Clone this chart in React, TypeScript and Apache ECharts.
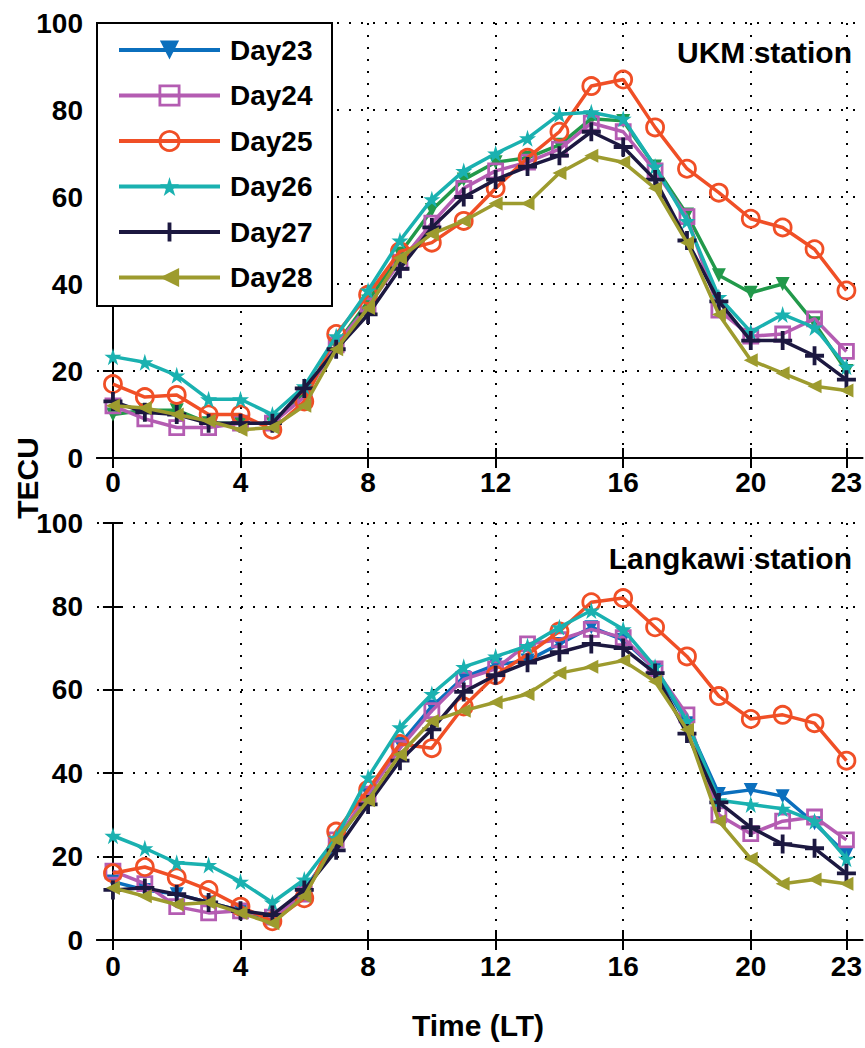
import React, { useEffect, useRef } from "react";
import * as echarts from "echarts";

const hours = [0, 1, 2, 3, 4, 5, 6, 7, 8, 9, 10, 11, 12, 13, 14, 15, 16, 17, 18, 19, 20, 21, 22, 23];
const xTicks = [0, 4, 8, 12, 16, 20, 23];
const dayNames = ["Day23", "Day24", "Day25", "Day26", "Day27", "Day28"];

// UKM station
const ukmDay23 = [10, 11, 11, 8, 8, 8, 15, 26, 36, 47, 57, 64, 68, 69, 72, 78, 77.5, 67, 56, 42, 38, 40, 31, 20];
const ukmDay24 = [12, 9, 7, 7, 8, 8, 14, 26, 35, 45, 54, 62, 66, 68, 71, 77, 75, 66, 55.5, 34, 28, 28.5, 32, 24.5];
const ukmDay25 = [17, 14, 14.5, 10, 10, 6.5, 13, 28.5, 37.5, 47.5, 49.5, 54.5, 62, 69, 75, 85.5, 87, 76, 66.5, 61, 55, 53, 48, 38.5];
const ukmDay26 = [23.3, 22, 19, 13.5, 13.5, 10, 16.5, 28, 38.5, 50, 59.5, 66, 70, 73.5, 79, 79.5, 78, 67, 54.5, 37, 29, 33, 30, 21];
const ukmDay27 = [13, 10.5, 10, 8, 8, 8, 16, 25, 33, 43.5, 53, 60, 64, 67, 69.5, 75, 71.5, 64, 50, 36, 27, 27, 23.5, 18];
const ukmDay28 = [12, 11.5, 10, 8.5, 6.5, 7, 12, 25, 34.5, 46, 51.5, 54.5, 58.5, 58.5, 65.5, 69.5, 68, 62, 49.5, 33, 22.5, 19.5, 16.5, 15.5];

// Langkawi station
const lgkDay23 = [14, 12, 11, 9, 7, 5, 12, 23, 35, 47, 56, 63, 66, 67, 71, 75, 72, 65, 52, 35, 36, 34.5, 28, 20.5];
const lgkDay24 = [16.5, 13.5, 8, 6.5, 7, 5.5, 11, 24, 35, 46, 55, 62.5, 65, 71, 72, 74.5, 72.5, 65, 54, 30, 25.5, 28.5, 29.5, 24];
const lgkDay25 = [16, 17.5, 15, 12, 8, 4.5, 10, 26, 36, 47, 46, 56, 63.5, 68.5, 74, 81, 82, 75, 68, 58.5, 53, 54, 52, 43];
const lgkDay26 = [25, 22, 18.5, 18, 14, 9, 14.5, 24.5, 39, 51, 59, 65.5, 68, 70.5, 75, 79, 74.5, 65.5, 52.5, 33.5, 32.5, 31.5, 28.5, 19.5];
const lgkDay27 = [12, 12.5, 11, 9, 7, 6, 12, 21.5, 32.5, 43, 50.5, 59.5, 63.5, 66.5, 69, 71, 70, 64, 49.5, 33, 27, 23, 22, 16];
const lgkDay28 = [12.5, 10.5, 8.5, 9, 6.5, 4, 10.5, 24, 33.5, 44.5, 52.5, 55, 57, 59, 64, 65.5, 67, 62, 50.5, 28.5, 19.5, 13.5, 14.5, 13.5];

const ukmSets = [ukmDay23, ukmDay24, ukmDay25, ukmDay26, ukmDay27, ukmDay28];
const lgkSets = [lgkDay23, lgkDay24, lgkDay25, lgkDay26, lgkDay27, lgkDay28];

const FONT = '"Liberation Sans", Arial, sans-serif';
const BLUE = "#0b6fbd";
const GREEN = "#22994a";
const colorsTop = [GREEN, "#b45cb2", "#f04f26", "#1ab1b0", "#1c1840", "#9d9b2e"];
const colorsBottom = [BLUE, "#b45cb2", "#f04f26", "#1ab1b0", "#1c1840", "#9d9b2e"];
const legendColors = [BLUE, "#b45cb2", "#f04f26", "#1ab1b0", "#1c1840", "#9d9b2e"];

const STAR = "path://M50,0 L61,35 L98,35 L68,57 L79,91 L50,70 L21,91 L32,57 L2,35 L39,35 Z";
const PLUS = "path://M40,0 H60 V40 H100 V60 H60 V100 H40 V60 H0 V40 H40 Z";

type Marker = { symbol: string; size: number; rotate: number; hollow: boolean };
const markers: Marker[] = [
  { symbol: "triangle", size: 14, rotate: 180, hollow: false },
  { symbol: "rect", size: 14, rotate: 0, hollow: true },
  { symbol: "circle", size: 17, rotate: 0, hollow: true },
  { symbol: STAR, size: 17, rotate: 0, hollow: false },
  { symbol: PLUS, size: 19, rotate: 0, hollow: false },
  { symbol: "triangle", size: 14, rotate: 90, hollow: false },
];

function App() {
  const ref = useRef<HTMLDivElement>(null);
  useEffect(() => {
    if (!ref.current) return;
    const chart = echarts.init(ref.current, null, { renderer: "svg" });

    const grids = [
      { left: 97, top: 23, width: 766, height: 435 },
      { left: 97, top: 523, width: 766, height: 417 },
    ];

    const labelStyle = { fontFamily: FONT, fontWeight: "bold" as const, fontSize: 28, color: "#000" };
    const xAxes: any[] = [];
    const yAxes: any[] = [];
    grids.forEach((_, gi) => {
      xAxes.push({
        type: "value", gridIndex: gi, min: -0.5, max: 23.5, position: "bottom",
        axisLine: { show: true, lineStyle: { color: "#000", width: 2 } },
        axisTick: { show: true, inside: true, length: 10, customValues: xTicks, lineStyle: { color: "#000", width: 2 } },
        axisLabel: { show: true, customValues: xTicks, margin: gi === 0 ? 10 : 12, ...labelStyle },
        splitLine: { show: true, lineStyle: { color: "#000", width: 2, type: [2, 10] } },
      });
      xAxes.push({
        type: "value", gridIndex: gi, min: -0.5, max: 23.5, position: "top",
        axisLine: { show: true, lineStyle: { color: "#000", width: 2 } },
        axisTick: { show: true, inside: true, length: 10, customValues: xTicks, lineStyle: { color: "#000", width: 2 } },
        axisLabel: { show: false },
        splitLine: { show: false },
      });
      yAxes.push({
        type: "value", gridIndex: gi, min: 0, max: 100, interval: 20, position: "left",
        axisLine: { show: true, lineStyle: { color: "#000", width: 2 } },
        axisTick: { show: true, inside: true, length: 10, lineStyle: { color: "#000", width: 2 } },
        axisLabel: { show: true, margin: 14, ...labelStyle },
        splitLine: { show: true, lineStyle: { color: "#000", width: 2, type: [2, 10] } },
      });
      yAxes.push({
        type: "value", gridIndex: gi, min: 0, max: 100, interval: 20, position: "right",
        axisLine: { show: true, lineStyle: { color: "#000", width: 2 } },
        axisTick: { show: true, inside: true, length: 10, lineStyle: { color: "#000", width: 2 } },
        axisLabel: { show: false },
        splitLine: { show: false },
      });
    });

    const series: any[] = [];
    [ukmSets, lgkSets].forEach((sets, gi) => {
      const cols = gi === 0 ? colorsTop : colorsBottom;
      sets.forEach((vals, i) => {
        const m = markers[i];
        const c = cols[i];
        series.push({
          type: "line",
          name: dayNames[i],
          xAxisIndex: gi * 2,
          yAxisIndex: gi * 2,
          data: hours.map((h, k) => [h, vals[k]]),
          symbol: m.symbol,
          symbolSize: m.size,
          symbolRotate: m.rotate,
          showAllSymbol: true,
          color: c,
          lineStyle: { color: c, width: 3.5 },
          itemStyle: m.hollow
            ? { color: "rgba(255,255,255,0)", borderColor: c, borderWidth: 2.8 }
            : { color: c, borderColor: c, borderWidth: 0 },
          emphasis: { disabled: true },
          z: 2 + i,
        });
      });
    });

    const legendData = dayNames.map((n, i) => ({
      name: n,
      itemStyle: markers[i].hollow
        ? { color: "rgba(255,255,255,0)", borderColor: legendColors[i], borderWidth: 2.8 }
        : { color: legendColors[i], borderWidth: 0 },
      lineStyle: { color: legendColors[i], width: 4 },
    }));

    chart.setOption({
      animation: false,
      grid: grids,
      xAxis: xAxes,
      yAxis: yAxes,
      series,
      legend: {
        data: legendData,
        orient: "vertical",
        left: 117,
        top: 36,
        padding: 0,
        itemWidth: 101,
        itemHeight: 24,
        itemGap: 17.5,
        selectedMode: false,
        z: 20,
        textStyle: { fontFamily: FONT, fontWeight: "bold", fontSize: 28, color: "#000", padding: [0, 0, 0, 5] },
      },
      graphic: [
        {
          type: "rect", z: 15, shape: { x: 97, y: 23, width: 235, height: 283 },
          style: { fill: "#fff", stroke: "#000", lineWidth: 2 },
        },
        {
          type: "text", x: 852, y: 52, z: 15,
          style: { text: "UKM station", fontFamily: FONT, fontWeight: "bold", fontSize: 30, fill: "#000", align: "right", verticalAlign: "middle", textAlign: "right", textVerticalAlign: "middle" },
        },
        {
          type: "text", x: 852, y: 558, z: 15,
          style: { text: "Langkawi station", fontFamily: FONT, fontWeight: "bold", fontSize: 30, fill: "#000", align: "right", verticalAlign: "middle", textAlign: "right", textVerticalAlign: "middle" },
        },
        {
          type: "text", x: 478, y: 1025, z: 15,
          style: { text: "Time (LT)", fontFamily: FONT, fontWeight: "bold", fontSize: 30, fill: "#000", align: "center", verticalAlign: "middle", textAlign: "center", textVerticalAlign: "middle" },
        },
        {
          type: "text", x: 27, y: 478, z: 15, rotation: Math.PI / 2,
          style: { text: "TECU", fontFamily: FONT, fontWeight: "bold", fontSize: 30, fill: "#000", align: "center", verticalAlign: "middle", textAlign: "center", textVerticalAlign: "middle" },
        },
      ],
    });
    return () => chart.dispose();
  }, []);
  return (
    <div
      ref={ref}
      style={{ position: "absolute", left: 0, top: 0, width: 865, height: 1048, background: "#fff" }}
    />
  );
}

export default App;
